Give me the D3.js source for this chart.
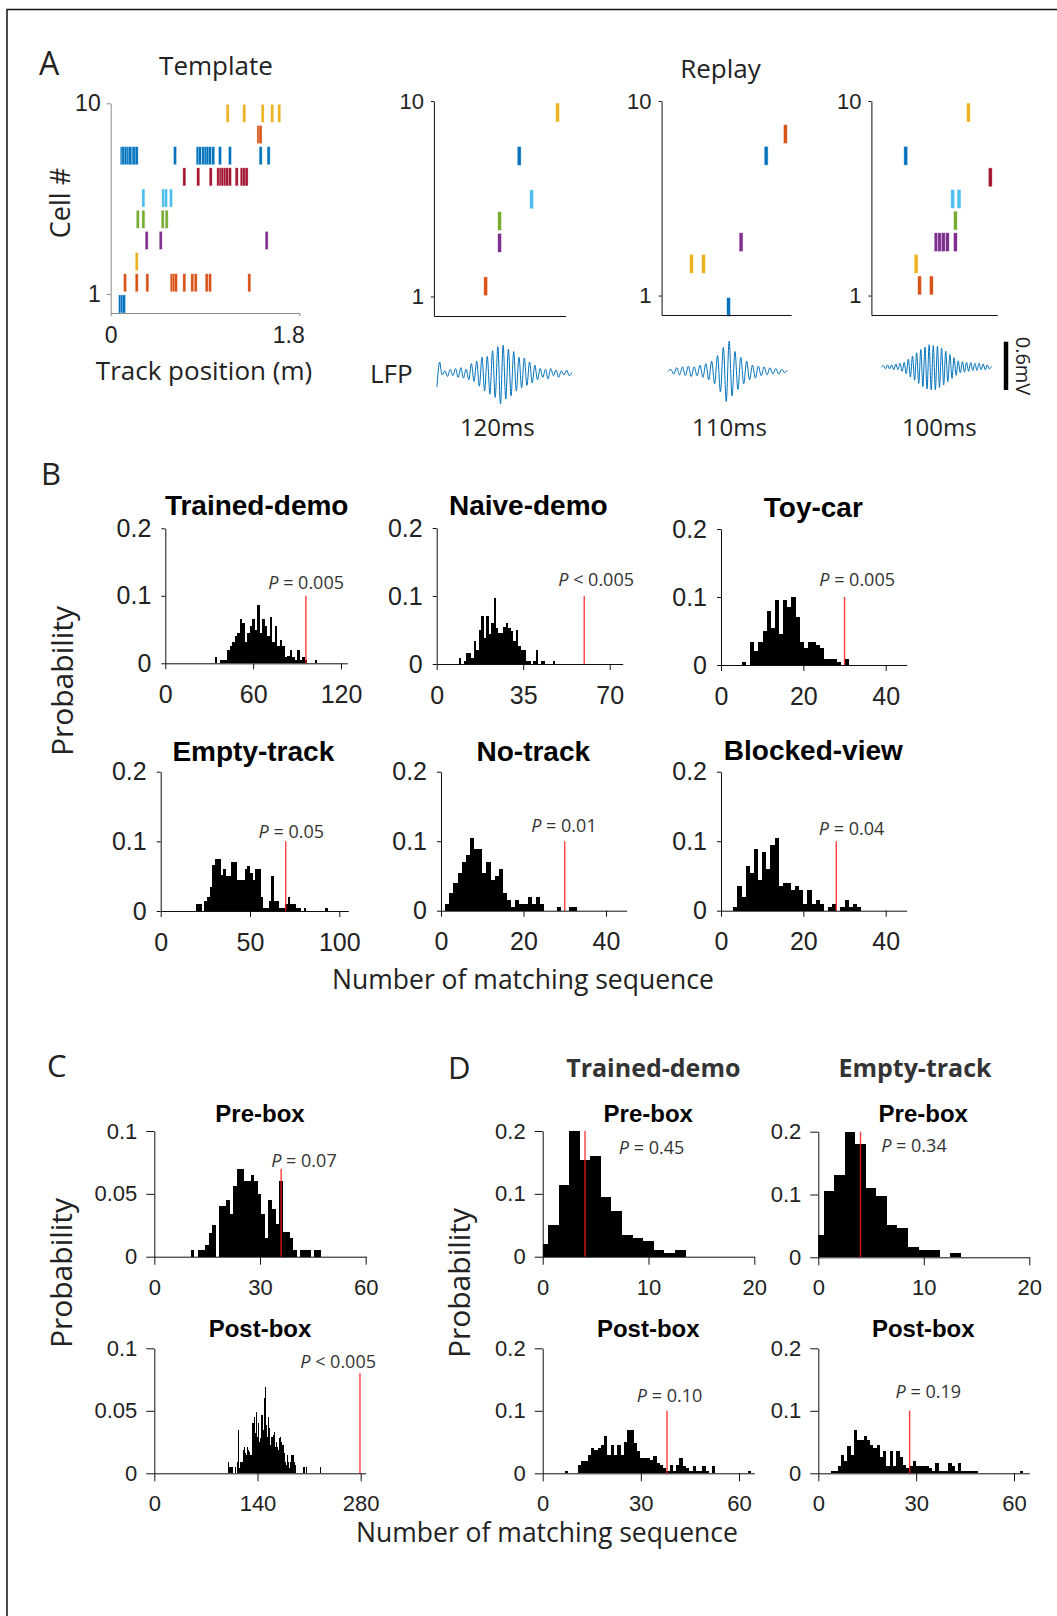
<!DOCTYPE html>
<html>
<head>
<meta charset="utf-8">
<script src="https://d3js.org/d3.v7.min.js"></script>
<style>
html,body{margin:0;padding:0;background:#fff;}
svg{display:block;}
text{white-space:pre;}
</style>
</head>
<body>
<svg id="fig" width="1057" height="1616" xmlns="http://www.w3.org/2000/svg"></svg>
<script>
// ======================= DATA =======================
// Panel A – cell colours (cells 1..10) and spike data
const cellColors = ["#0072BD","#D95319","#EDB120","#7E2F8E","#77AC30","#4DBEEE","#A2142F","#0072BD","#D95319","#EDB120"];
const cellTicks = [1, 10];
const trackTicks = [0, 1.8];
// template spikes: track position (m) per cell 1..10
const templateSpikes = [
  [0.089, 0.108, 0.127],
  [0.137, 0.248, 0.350, 0.582, 0.604, 0.623, 0.703, 0.779, 0.811, 0.916, 0.948, 1.323],
  [0.248],
  [0.343, 0.477, 1.488],
  [0.258, 0.312, 0.496, 0.534],
  [0.312, 0.502, 0.528, 0.576],
  [0.703, 0.836, 0.954, 1.027, 1.049, 1.068, 1.091, 1.113, 1.138, 1.202, 1.250, 1.272, 1.297],
  [0.105, 0.121, 0.143, 0.169, 0.185, 0.210, 0.226, 0.248, 0.614, 0.830, 0.852, 0.884, 0.906, 0.925, 0.948, 0.979, 1.043, 1.138, 1.431, 1.507],
  [1.41, 1.43],
  [1.116, 1.275, 1.450, 1.542, 1.609]
];
// replay events: spike time (ms) per cell 1..10
const replay1Spikes = [[], [47.2], [], [59.9], [59.9], [89.1], [], [77.7], [], [112.7]];
const replay2Spikes = [[56.9], [], [25.4, 35.6], [67.5], [], [], [], [88.8], [105.1], []];
const replay3Spikes = [[], [38.3, 47.6], [35.5], [51.4, 54.3, 57.1, 60.3, 66.7], [66.7], [64.6, 69.6], [94.4], [27.3], [], [77.0]];
const replayDurations = [120, 110, 100];
const replayLabels = ["120ms", "110ms", "100ms"];
// LFP traces (mV, successive peaks/troughs)
const lfp1 = [-0.17, 0.14, -0.02, 0.03, -0.04, 0.05, -0.03, 0.06, -0.05, 0.07, -0.06, 0.05, -0.08, 0.12, -0.1, 0.15, -0.16, 0.2, -0.22, 0.21, -0.26, 0.28, -0.3, 0.33, -0.38, 0.35, -0.32, 0.3, -0.28, 0.27, -0.22, 0.2, -0.18, 0.19, -0.15, 0.14, -0.12, 0.1, -0.08, 0.06, -0.05, 0.05, -0.07, 0.06, -0.03, 0.04, -0.05, 0.03, -0.02, 0.04, -0.03, 0.01];
const lfp2 = [0.0, 0.03, -0.03, 0.05, -0.04, 0.06, -0.05, 0.07, -0.06, 0.06, -0.05, 0.08, -0.07, 0.1, -0.1, 0.13, -0.15, 0.2, -0.25, 0.3, -0.37, 0.38, -0.3, 0.25, -0.22, 0.18, -0.15, 0.13, -0.1, 0.08, -0.08, 0.07, -0.05, 0.06, -0.04, 0.05, -0.03, 0.04, -0.03, 0.03, -0.01, 0.02];
const lfp3 = [0.0, 0.02, -0.02, 0.03, -0.02, 0.03, -0.03, 0.04, -0.03, 0.05, -0.05, 0.06, -0.08, 0.1, -0.12, 0.14, -0.16, 0.18, -0.2, 0.22, -0.24, 0.25, -0.27, 0.28, -0.28, 0.27, -0.28, 0.26, -0.25, 0.24, -0.22, 0.2, -0.18, 0.16, -0.14, 0.12, -0.1, 0.08, -0.07, 0.07, -0.06, 0.06, -0.05, 0.06, -0.04, 0.05, -0.04, 0.05, -0.03, 0.04, -0.03, 0.03, -0.02, 0.01];
const lfpScaleBarMv = 0.6;

// Histograms: probabilities per bin
const probTrainedDemo = [0.009,0,0.005,0.005,0.005,0.019,0.025,0.031,0.04,0.045,0.065,0.06,0.031,0.045,0.056,0.066,0.05,0.086,0.045,0.065,0.056,0.04,0.069,0.031,0.056,0.025,0.035,0.025,0.01,0.011,0.019,0.01,0.005,0.019,0.005,0.01,0.005,0,0,0,0.005];
const probNaiveDemo = [0.009,0,0.005,0.016,0.016,0.009,0.034,0.021,0.05,0.07,0.038,0.07,0.044,0.06,0.097,0.053,0.045,0.045,0.055,0.061,0.053,0.048,0.034,0.05,0.026,0.02,0.02,0.005,0.005,0,0.005,0.02,0,0.005,0.005,0,0,0,0.005];
const probToyCar = [0.005,0,0.034,0.02,0.034,0.05,0.08,0.055,0.096,0.045,0.096,0.086,0.1,0.07,0.034,0.025,0.034,0.034,0.03,0.025,0.009,0.009,0.009,0.005,0,0.009];
const probEmptyTrack = [0.01,0.01,0,0.014,0.02,0.035,0.066,0.075,0.075,0.051,0.06,0.05,0.05,0.07,0.07,0.045,0.045,0.045,0.06,0.065,0.055,0.045,0.06,0.06,0.02,0.005,0.005,0.014,0.05,0.014,0.014,0.005,0.005,0.01,0.02,0.01,0.01,0.005,0.005,0,0.005,0,0,0,0,0,0,0,0.005];
const probNoTrack = [0.01,0.026,0.04,0.054,0.07,0.08,0.105,0.089,0.089,0.054,0.07,0.044,0.05,0.06,0.026,0.015,0.005,0.015,0.01,0.01,0.019,0.01,0.019,0.01,0,0,0,0.005,0,0,0.005,0.005];
const probBlockedView = [0.005,0.036,0.02,0.065,0.054,0.089,0.044,0.085,0.06,0.095,0.105,0.036,0.04,0.04,0.03,0.036,0.03,0.01,0.03,0.01,0.015,0.01,0,0.005,0.01,0,0.005,0.015,0.005,0.01,0.005];
const probCPre = [0.005,0,0.005,0.005,0.009,0.019,0.025,0,0.04,0.04,0.045,0.034,0.056,0.07,0.07,0.06,0.06,0.065,0.06,0.05,0.034,0.015,0.045,0.038,0.026,0.06,0.02,0.02,0.015,0.005,0,0.005,0.005,0.005,0,0.005,0.005];
const probCPost = [0.009,0.005,0.005,0.005,0,0,0.005,0,0.009,0.035,0.004,0.009,0.009,0.019,0.021,0.016,0.015,0.021,0.019,0.017,0.015,0.04,0.04,0.045,0.032,0.049,0.029,0.04,0.025,0.028,0.047,0.035,0.06,0.069,0.039,0.029,0.045,0.036,0.023,0.029,0.031,0.033,0.021,0.025,0.021,0.019,0.028,0.029,0.025,0.023,0.016,0.009,0.007,0.015,0.009,0.004,0.009,0.015,0.015,0.009,0.007,0,0,0,0,0,0,0,0.005,0,0.005,0,0,0,0,0,0,0,0,0,0,0,0,0.005];
const probDTrainedPre = [0.02,0.05,0.114,0.2,0.154,0.16,0.095,0.073,0.034,0.03,0.025,0.011,0.006,0.011];
const probDTrainedPost = [0.004,0,0,0,0.013,0.02,0.02,0.03,0.041,0.037,0.041,0.045,0.06,0.03,0.045,0.03,0.045,0.03,0.05,0.069,0.069,0.048,0.035,0.024,0.025,0.024,0.021,0.028,0.017,0.013,0.008,0.004,0.013,0.004,0.013,0.025,0.011,0.008,0.004,0.011,0.004,0.004,0.011,0.004,0,0.011,0,0,0,0,0,0,0,0,0,0,0.004];
const probDEmptyPre = [0.035,0.106,0.131,0.2,0.18,0.111,0.097,0.051,0.047,0.017,0.012,0.012,0,0.007];
const probDEmptyPost = [0.004,0.004,0.011,0.029,0.02,0.043,0.029,0.069,0.054,0.054,0.06,0.054,0.045,0.041,0.045,0.026,0.035,0.011,0.035,0.011,0.035,0.026,0.013,0.008,0.011,0.019,0.011,0.011,0.011,0.011,0.008,0.004,0.016,0.004,0.004,0.004,0.016,0.011,0.004,0.016,0.004,0.004,0.004,0.004,0.004,0,0,0,0,0,0,0,0,0,0,0,0,0,0.004];

const histTitles = ["Trained-demo","Naive-demo","Toy-car","Empty-track","No-track","Blocked-view","Pre-box","Post-box","Pre-box","Post-box","Pre-box","Post-box"];
const histProbs = [probTrainedDemo, probNaiveDemo, probToyCar, probEmptyTrack, probNoTrack, probBlockedView, probCPre, probCPost, probDTrainedPre, probDTrainedPost, probDEmptyPre, probDEmptyPost];
const histBinStart = [33.9, 9, 5.1, 20, 1, 3, 10.4, 100.4, -0.5, 6.8, -0.5, 3.9];
const histBinWidth = [1.708, 1, 1, 1.5, 1, 1, 1, 1.5, 1, 1, 1, 1];
const histXTicks = [[0,60,120],[0,35,70],[0,20,40],[0,50,100],[0,20,40],[0,20,40],[0,30,60],[0,140,280],[0,10,20],[0,30,60],[0,10,20],[0,30,60]];
const histYTicks = [[0,0.1,0.2],[0,0.1,0.2],[0,0.1,0.2],[0,0.1,0.2],[0,0.1,0.2],[0,0.1,0.2],[0,0.05,0.1],[0,0.05,0.1],[0,0.1,0.2],[0,0.1,0.2],[0,0.1,0.2],[0,0.1,0.2]];
const histThreshold = [96, 59.7, 30, 70, 30, 28, 36, 279, 4, 38, 4, 28];
const histThresholdTop = [0.1, 0.1, 0.1, 0.1, 0.1, 0.1, 0.07, 0.08, 0.2, 0.1, 0.2, 0.1];
const histPRel = ["=", "<", "=", "=", "=", "=", "=", "<", "=", "=", "=", "="];
const histPValue = ["0.005","0.005","0.005","0.05","0.01","0.04","0.07","0.005","0.45","0.10","0.34","0.19"];

// ======================= LAYOUT =======================
const histLayout = [
  {x0:165.3, tickPx:341,    xEnd:347.3,  yTop:528.3,  yBot:663.3,  tx:256.7, ty:515,    px:344,   py:589.3, grp:"B"},
  {x0:436.7, tickPx:609.7,  xEnd:622.7,  yTop:528,    yBot:664,    tx:528.3, ty:515,    px:634,   py:586,   grp:"B"},
  {x0:721,   tickPx:885.7,  xEnd:906.7,  yTop:529,    yBot:665,    tx:813.3, ty:516.7,  px:895,   py:586,   grp:"B"},
  {x0:160.7, tickPx:339.3,  xEnd:348.3,  yTop:771.7,  yBot:911,    tx:253.3, ty:761,    px:324,   py:837.7, grp:"B"},
  {x0:441,   tickPx:606,    xEnd:626.7,  yTop:771.7,  yBot:910.7,  tx:533.3, ty:761,    px:596.7, py:831.7, grp:"B"},
  {x0:721,   tickPx:885.7,  xEnd:906.7,  yTop:771.7,  yBot:910.7,  tx:813.3, ty:760,    px:884.3, py:835,   grp:"B"},
  {x0:154.3, tickPx:365.7,  xEnd:365.7,  yTop:1131,   yBot:1256.7, tx:260,   ty:1121.7, px:336.7, py:1167.3, grp:"C"},
  {x0:154.3, tickPx:360.7,  xEnd:365.7,  yTop:1348.3, yBot:1473.3, tx:260,   ty:1336.7, px:376,   py:1368.3, grp:"C"},
  {x0:542.7, tickPx:754.3,  xEnd:754.3,  yTop:1131,   yBot:1256.7, tx:648.3, ty:1121.7, px:684.3, py:1154,  grp:"C"},
  {x0:542.7, tickPx:739,    xEnd:754.3,  yTop:1348.3, yBot:1473.3, tx:648.3, ty:1337.3, px:702.3, py:1402.3, grp:"C"},
  {x0:818.3, tickPx:1029.3, xEnd:1029.3, yTop:1131.7, yBot:1257.3, tx:923.3, ty:1121.7, px:946.7, py:1151.7, grp:"C"},
  {x0:818.3, tickPx:1014,   xEnd:1029.3, yTop:1348.3, yBot:1473.3, tx:923.3, ty:1337.3, px:961,   py:1398.3, grp:"C"}
];
const grpStyle = {
  B: {tickFont:25, ytk:4, xtk:6, yPad:10, xPad:16, titleFont:28},
  C: {tickFont:22, ytk:8, xtk:8, yPad:9, xPad:14.5, titleFont:24}
};

const SANS = "'Open Sans','Noto Sans',sans-serif";
const ARIAL = "'Liberation Sans',Arial,Helvetica,sans-serif";
const TXT = "#222";

const svg = d3.select("#fig");

// frame border
svg.append("path").attr("d", "M7,1616 V9.5 H1057").attr("fill","none").attr("stroke","#111").attr("stroke-width",1.5);

function label(x, y, str, size, opts = {}) {
  const t = svg.append("text").attr("x", x).attr("y", y).text(str)
    .attr("font-family", opts.family || SANS).attr("font-size", size)
    .attr("fill", opts.fill || TXT).attr("text-anchor", opts.anchor || "start");
  if (opts.weight) t.attr("font-weight", opts.weight);
  if (opts.rotate !== undefined) t.attr("transform", `rotate(${opts.rotate},${x},${y})`);
  return t;
}

function styleAxis(g, fontSize, family, lineColor, textColor) {
  g.attr("font-size", fontSize).attr("font-family", family);
  g.selectAll("path,line").attr("stroke", lineColor).attr("stroke-width", 1);
  g.selectAll("text").attr("fill", textColor);
}

// ======================= PANEL A =======================
label(39, 75, "A", 32);
label(216, 75, "Template", 26, {anchor:"middle"});
label(720.5, 78, "Replay", 26, {anchor:"middle"});

// Template raster
const tX = d3.scaleLinear().domain([0, 1.8]).range([110.7, 299.3]);
const tY = d3.scaleLinear().domain([0.1, 10]).range([313, 103.3]);
const tpl = svg.append("g");
templateSpikes.forEach((arr, ci) => {
  tpl.append("g").selectAll("rect").data(arr).join("rect")
    .attr("x", d => tX(d) - 1.5).attr("width", 3)
    .attr("y", tY(ci + 1) + 1).attr("height", tY(ci + 0.1) - tY(ci + 1) - 1)
    .attr("fill", cellColors[ci]).attr("stroke", "#fff").attr("stroke-width", 0.5).attr("stroke-opacity", 0.7);
});
const tAxY = svg.append("g").attr("transform", "translate(110.7,0)")
  .call(d3.axisLeft(tY).tickValues(cellTicks).tickSize(4).tickSizeOuter(0).tickPadding(6).tickFormat(d3.format("d")));
styleAxis(tAxY, 23, ARIAL, "#8a8a8a", TXT);
const tAxX = svg.append("g").attr("transform", "translate(0,313)")
  .call(d3.axisBottom(tX).tickValues(trackTicks).tickSize(3).tickSizeOuter(0).tickPadding(11).tickFormat(d => d === 0 ? "0" : "1.8"));
styleAxis(tAxX, 23, ARIAL, "#8a8a8a", TXT);
tAxX.selectAll(".tick text").filter(d => d > 0).attr("text-anchor", "end").attr("dx", 5);
label(70, 203, "Cell #", 27, {anchor:"middle", rotate:-90});
label(204, 380, "Track position (m)", 26, {anchor:"middle"});

// Replays
const replayLayout = [
  {x0:433.9, x1:565.6, yTop:101, yBot:316, lx0:437,   lx1:571.9, lcy:373.3, labX:497.3},
  {x0:661.6, x1:791.1, yTop:101, yBot:315, lx0:667.9, lx1:787.5, lcy:371.7, labX:729.5},
  {x0:871.4, x1:997.3, yTop:101, yBot:315, lx0:881.3, lx1:991.5, lcy:367.3, labX:939.3}
];
const replaySets = [replay1Spikes, replay2Spikes, replay3Spikes];
const lfpSets = [lfp1, lfp2, lfp3];
const mvPx = 48.3 / lfpScaleBarMv;

replayLayout.forEach((L, k) => {
  const rx = d3.scaleLinear().domain([0, replayDurations[k]]).range([L.x0, L.x1]);
  const ry = d3.scaleLinear().domain([0.1, 10]).range([L.yBot, L.yTop]);
  const g = svg.append("g");
  replaySets[k].forEach((arr, ci) => {
    g.append("g").selectAll("rect").data(arr).join("rect")
      .attr("x", d => rx(d) - 2).attr("width", 4)
      .attr("y", ry(ci + 1) + 2).attr("height", 19)
      .attr("fill", cellColors[ci]).attr("stroke", "#fff").attr("stroke-width", 0.7).attr("stroke-opacity", 0.8);
  });
  const ay = svg.append("g").attr("transform", `translate(${L.x0},0)`)
    .call(d3.axisLeft(ry).tickValues(cellTicks).tickSize(3).tickSizeOuter(0).tickPadding(7).tickFormat(d3.format("d")));
  styleAxis(ay, 22, ARIAL, "#111", TXT);
  const ax = svg.append("g").attr("transform", `translate(0,${L.yBot})`)
    .call(d3.axisBottom(rx).tickValues([]).tickSizeOuter(0));
  styleAxis(ax, 10, ARIAL, "#111", TXT);

  // LFP
  const vals = lfpSets[k];
  const lx = d3.scaleLinear().domain([0, vals.length - 1]).range([L.lx0, L.lx1]);
  const ly = v => L.lcy - v * mvPx;
  svg.append("path").datum(vals)
    .attr("d", d3.line().x((d, i) => lx(i)).y(d => ly(d)).curve(d3.curveCatmullRom.alpha(0.5)))
    .attr("fill", "none").attr("stroke", "#0072BD").attr("stroke-width", 1);
  label(L.labX, 436, replayLabels[k], 24, {anchor:"middle"});
});
label(370, 383, "LFP", 26);
// scale bar
svg.append("line").attr("x1", 1006).attr("x2", 1006).attr("y1", 341.7).attr("y2", 341.7 + lfpScaleBarMv * mvPx)
  .attr("stroke", "#000").attr("stroke-width", 4.5);
label(1016, 366, "0.6mV", 20, {anchor:"middle", rotate:90});

// ======================= PANELS B, C, D =======================
label(41, 485, "B", 31);
label(47, 1077, "C", 31);
label(448, 1079, "D", 31);

histLayout.forEach((L, k) => {
  const S = grpStyle[L.grp];
  const xt = histXTicks[k];
  const lastTick = xt[xt.length - 1];
  const xMax = lastTick * (L.xEnd - L.x0) / (L.tickPx - L.x0);
  const yt = histYTicks[k];
  const yMax = yt[yt.length - 1];
  const x = d3.scaleLinear().domain([0, xMax]).range([L.x0, L.xEnd]);
  const y = d3.scaleLinear().domain([0, yMax]).range([L.yBot, L.yTop]);
  const g = svg.append("g");
  const bins = histProbs[k].map((p, i) => ({
    a: Math.max(0, histBinStart[k] + i * histBinWidth[k]),
    b: histBinStart[k] + (i + 1) * histBinWidth[k],
    p
  })).filter(d => d.p > 0);
  g.selectAll("rect").data(bins).join("rect")
    .attr("x", d => x(d.a)).attr("width", d => x(d.b) - x(d.a))
    .attr("y", d => y(d.p)).attr("height", d => y(0) - y(d.p))
    .attr("fill", "#000").attr("shape-rendering", "crispEdges");
  // threshold line
  g.append("line").attr("x1", x(histThreshold[k])).attr("x2", x(histThreshold[k]))
    .attr("y1", y(histThresholdTop[k])).attr("y2", y(0))
    .attr("stroke", "#ff1a1a").attr("stroke-width", 1.4).attr("stroke-opacity", 0.85);
  // axes
  const ay = svg.append("g").attr("transform", `translate(${L.x0},0)`)
    .call(d3.axisLeft(y).tickValues(yt).tickSize(S.ytk).tickSizeOuter(0).tickPadding(S.yPad).tickFormat(d => String(d)));
  styleAxis(ay, S.tickFont, ARIAL, "#111", TXT);
  const ax = svg.append("g").attr("transform", `translate(0,${L.yBot})`)
    .call(d3.axisBottom(x).tickValues(xt).tickSize(S.xtk).tickSizeOuter(0).tickPadding(S.xPad).tickFormat(d => String(d)));
  styleAxis(ax, S.tickFont, ARIAL, "#111", TXT);
  // title
  label(L.tx, L.ty, histTitles[k], S.titleFont, {anchor:"middle", family:ARIAL, weight:"bold", fill:"#000"});
  // P text
  const pt = svg.append("text").attr("x", L.px).attr("y", L.py).attr("text-anchor", "end")
    .attr("font-family", SANS).attr("font-size", 18).attr("fill", "#333");
  pt.append("tspan").attr("font-style", "italic").text("P");
  pt.append("tspan").text(` ${histPRel[k]} ${histPValue[k]}`);
});

// shared axis labels
label(73, 681, "Probability", 30, {anchor:"middle", rotate:-90});
label(523, 989, "Number of matching sequence", 26.5, {anchor:"middle"});
label(72, 1273, "Probability", 30, {anchor:"middle", rotate:-90});
label(470, 1283, "Probability", 30, {anchor:"middle", rotate:-90});
label(547, 1542, "Number of matching sequence", 26.5, {anchor:"middle"});
label(653.3, 1076.7, "Trained-demo", 25, {anchor:"middle", weight:"bold", fill:"#333"});
label(915, 1076.7, "Empty-track", 25, {anchor:"middle", weight:"bold", fill:"#333"});
</script>
</body>
</html>
